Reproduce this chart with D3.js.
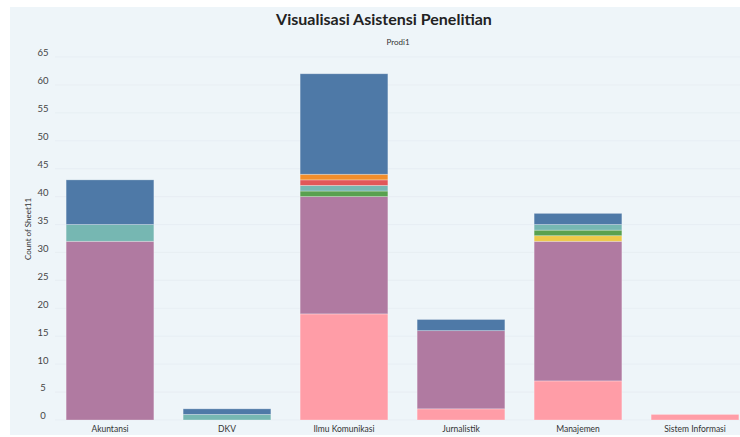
<!DOCTYPE html>
<html><head><meta charset="utf-8">
<script src="https://cdn.jsdelivr.net/npm/d3@7"></script>
<style>body{margin:0;background:#fff;}svg{display:block;font-family:Lato,"Open Sans",sans-serif;}</style>
</head><body><svg id="c" width="740" height="437"></svg>
<script>
const categories = ["Akuntansi","DKV","Ilmu Komunikasi","Jurnalistik","Manajemen","Sistem Informasi"];
const seriesNames = ["Kategori 1","Kategori 2","Kategori 3","Kategori 4","Kategori 5","Kategori 6","Kategori 7","Kategori 8"];
const seriesColors = ["#ff9da7","#b07aa1","#edc948","#59a14f","#76b7b2","#e15759","#f28e2b","#4e79a7"];
// values per series, in category order
const s1 = [0,0,19,2,7,1];
const s2 = [32,0,21,14,25,0];
const s3 = [0,0,0,0,1,0];
const s4 = [0,0,1,0,1,0];
const s5 = [3,1,1,0,1,0];
const s6 = [0,0,1,0,0,0];
const s7 = [0,0,1,0,0,0];
const s8 = [8,1,18,2,2,0];
const seriesValues = [s1,s2,s3,s4,s5,s6,s7,s8];
const yTicks = [0,5,10,15,20,25,30,35,40,45,50,55,60,65];

const svg = d3.select("#c");
svg.append("rect").attr("x",10).attr("y",7).attr("width",730).attr("height",428).attr("fill","#eef5f9");

const table = categories.map((c,i)=>{const o={cat:c}; seriesNames.forEach((s,j)=>o[s]=seriesValues[j][i]); return o;});
const stacked = d3.stack().keys(seriesNames)(table);

const x = d3.scaleBand().domain(categories).range([51.5,753.5]).paddingInner(0.25).paddingOuter(0.125);
const y = d3.scaleLinear().domain([0,65]).range([420,57]);

// gridlines
svg.append("g").selectAll("line").data(yTicks).join("line")
  .attr("x1",55).attr("x2",740).attr("y1",d=>y(d)).attr("y2",d=>y(d))
  .attr("stroke","#e2eaf0").attr("stroke-width",0.6);

// y tick labels
svg.append("g").selectAll("text").data(yTicks).join("text")
  .attr("x",43).attr("y",d=>y(d)-3).attr("text-anchor","middle").attr("dominant-baseline","middle")
  .attr("font-size",9.5).attr("fill","#444").text(d=>d);

svg.append("text").attr("transform","translate(29,229) rotate(-90)").attr("text-anchor","middle")
  .attr("dominant-baseline","middle").attr("font-size",8).attr("fill","#333").text("Count of Sheet11");

// bars
const g = svg.append("g");
stacked.forEach((layer,j)=>{
  g.append("g").attr("fill",seriesColors[j]).selectAll("rect").data(layer.filter(d=>d[1]>d[0])).join("rect")
    .attr("x",d=>x(d.data.cat)).attr("width",x.bandwidth())
    .attr("y",d=>y(d[1])).attr("height",d=>y(d[0])-y(d[1]))
    .attr("stroke","#ffffff").attr("stroke-opacity",0.35).attr("stroke-width",0.8);
});

// x labels
svg.append("g").selectAll("text").data(categories).join("text")
  .attr("x",d=>x(d)+x.bandwidth()/2).attr("y",430).attr("text-anchor","middle").attr("dominant-baseline","middle")
  .attr("font-size",8.5).attr("fill","#333").text(d=>d);

svg.append("text").attr("x",384).attr("y",21).attr("text-anchor","middle").attr("dominant-baseline","middle")
  .attr("font-size",16).attr("font-weight","bold").attr("fill","#222").text("Visualisasi Asistensi Penelitian");
svg.append("text").attr("x",398).attr("y",43).attr("text-anchor","middle").attr("dominant-baseline","middle")
  .attr("font-size",8).attr("fill","#333").text("Prodi1");
</script></body></html>
